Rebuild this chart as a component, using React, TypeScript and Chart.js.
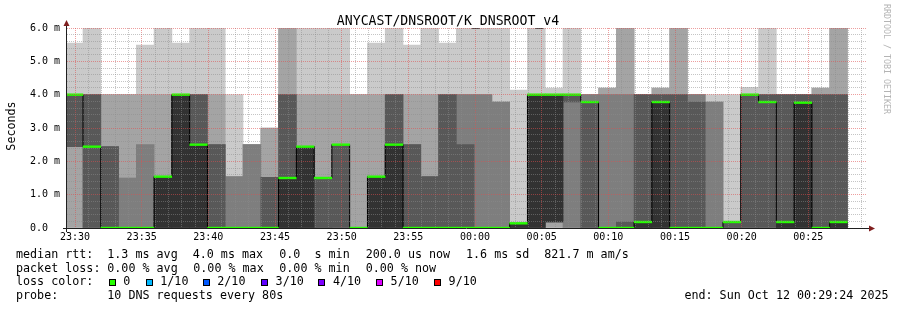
import React, { useEffect, useRef } from 'react';
import { Chart, registerables } from 'chart.js';

Chart.register(...registerables);

// ---- time axis (seconds relative to 23:30:00) ----
const VIEW_START = -36; // 23:29:24
const VIEW_END = 3564; // 00:29:24
const STEP = 80; // rrd step, seconds
const MINOR_TICK = 60; // seconds between minor grid lines
const MAJOR_TICK = 300; // seconds between labelled grid lines
const FIRST_STEP_START = -44; // 23:29:16

const xTickLabels = ['23:30', '23:35', '23:40', '23:45', '23:50', '23:55', '00:00', '00:05', '00:10', '00:15', '00:20', '00:25'];
const yTickLabels = ['0.0', '1.0 m', '2.0 m', '3.0 m', '4.0 m', '5.0 m', '6.0 m'];
const Y_MAX = 6;

// ---- per-step sorted ping rtts (ms), 10 pings each ----
const pingsSorted: number[][] = [
  [0, 0, 2.44, 2.44, 4.0, 4.0, 4.0, 4.0, 4.0, 5.55],
  [0, 0, 0, 0, 2.44, 2.44, 4.0, 4.0, 4.0, 6.0],
  [0, 0, 0, 0, 0, 0, 2.44, 2.44, 4.0, 4.0],
  [0, 0, 0, 0, 0, 0, 0, 1.5, 4.0, 4.0],
  [0, 0, 0, 0, 0, 0, 0, 2.5, 4.0, 5.49],
  [0, 0, 0, 0, 0, 1.54, 1.54, 1.54, 4.0, 6.0],
  [0, 0, 0, 0, 0, 4.0, 4.0, 4.0, 4.0, 5.55],
  [0, 0, 0, 0, 0, 2.5, 4.0, 4.0, 4.0, 6.0],
  [0, 0, 0, 0, 0, 0, 2.5, 2.5, 4.0, 6.0],
  [0, 0, 0, 0, 0, 0, 0, 1.54, 1.54, 4.0],
  [0, 0, 0, 0, 0, 0, 0, 2.5, 2.5, 2.5],
  [0, 0, 0, 0, 0, 0, 1.52, 1.52, 3.0, 3.0],
  [0, 0, 0, 0, 0, 1.5, 4.0, 4.0, 6.0, 6.0],
  [0, 0, 0, 0, 0, 2.44, 2.44, 2.44, 4.0, 6.0],
  [0, 0, 0, 0, 1.5, 1.5, 1.5, 1.5, 4.0, 6.0],
  [0, 0, 0, 0, 2.5, 2.5, 2.5, 2.5, 4.0, 6.0],
  [0, 0, 0, 0, 0, 0, 0, 0, 4.0, 4.0],
  [0, 0, 0, 0, 0, 1.54, 1.54, 1.54, 4.0, 5.55],
  [0, 0, 0, 0, 0, 2.5, 4.0, 4.0, 4.0, 6.0],
  [0, 0, 0, 0, 0, 0, 2.5, 2.5, 4.0, 5.49],
  [0, 0, 0, 0, 0, 0, 1.54, 1.54, 4.0, 6.0],
  [0, 0, 0, 0, 0, 0, 4.0, 4.0, 4.0, 5.55],
  [0, 0, 0, 0, 0, 0, 2.5, 4.0, 4.0, 6.0],
  [0, 0, 0, 0, 0, 0, 0, 4.0, 4.0, 6.0],
  [0, 0, 0, 0, 0, 0, 0, 3.78, 3.78, 6.0],
  [0, 0, 0, 0, 0, 0.14, 0.14, 0.14, 0.14, 4.14],
  [0, 0, 0, 0, 0, 4.0, 4.0, 4.0, 4.0, 6.0],
  [0, 0, 0.18, 0.18, 0.18, 4.0, 4.0, 4.0, 4.0, 4.2],
  [0, 0, 0, 3.78, 4.0, 4.0, 4.0, 4.0, 4.0, 6.0],
  [0, 0, 0, 0, 3.78, 3.78, 3.78, 4.0, 4.0, 4.0],
  [0, 0, 0, 0, 0, 0, 0, 4.0, 4.2, 4.2],
  [0, 0, 0, 0, 0, 0, 0.18, 4.0, 6.0, 6.0],
  [0, 0, 0, 0, 0, 0.18, 4.0, 4.0, 4.0, 4.0],
  [0, 0, 0, 0, 0, 3.78, 4.0, 4.0, 4.2, 4.2],
  [0, 0, 0, 0, 0, 0, 4.0, 4.0, 6.0, 6.0],
  [0, 0, 0, 0, 0, 0, 3.78, 4.0, 4.0, 4.0],
  [0, 0, 0, 0, 0, 0, 0, 3.78, 3.78, 4.0],
  [0, 0, 0, 0, 0.18, 0.18, 0.18, 0.18, 0.18, 4.0],
  [0, 0, 0, 0, 4.0, 4.0, 4.0, 4.0, 4.0, 4.22],
  [0, 0, 0, 0, 3.78, 3.78, 4.0, 4.0, 4.0, 6.0],
  [0, 0, 0, 0, 0, 0.18, 4.0, 4.0, 4.0, 4.0],
  [0, 0, 0, 0, 0, 3.76, 4.0, 4.0, 4.0, 4.0],
  [0, 0, 0, 0, 0, 0, 4.0, 4.0, 4.2, 4.2],
  [0, 0, 0, 0, 0, 0.18, 4.0, 4.0, 6.0, 6.0],
];

// median rtt per step (ms)
const medianRtt = [
  4.0, 2.44, 0, 0, 0, 1.54, 4.0, 2.5, 0, 0, 0, 0, 1.5, 2.44, 1.5, 2.5, 0, 1.54, 2.5, 0, 0, 0,
  0, 0, 0, 0.14, 4.0, 4.0, 4.0, 3.78, 0, 0, 0.18, 3.78, 0, 0, 0, 0.18, 4.0, 3.78, 0.18, 3.76, 0, 0.18,
];

// lost pings per step (out of 10)
const lostPings = [
  0, 0, 0, 0, 0, 0, 0, 0, 0, 0, 0, 0, 0, 0, 0, 0, 0, 0, 0, 0, 0, 0,
  0, 0, 0, 0, 0, 0, 0, 0, 0, 0, 0, 0, 0, 0, 0, 0, 0, 0, 0, 0, 0, 0,
];

const smokeColors = ['#cacaca', '#a4a4a4', '#7e7e7e', '#585858', '#323232'];

const lossLevelLabels = ['0', '1/10', '2/10', '3/10', '4/10', '5/10', '9/10'];
const lossLevelThresholds = [0, 1, 2, 3, 4, 5, 9];
const lossLevelColors = ['#26ff00', '#00b8ff', '#0059ff', '#5e00ff', '#7e00ff', '#dd00ff', '#ff0000'];

const chartTitle = 'ANYCAST/DNSROOT/K_DNSROOT_v4';
const yAxisTitle = 'Seconds';
const watermark = 'RRDTOOL / TOBI OETIKER';
const medianLegend = ['1.3 ms avg', '4.0 ms max', '0.0  s min', '200.0 us now', '1.6 ms sd', '821.7 m am/s'];
const lossLegend = ['0.00 % avg', '0.00 % max', '0.00 % min', '0.00 % now'];
const probeText = '10 DNS requests every 80s';
const endText = 'end: Sun Oct 12 00:29:24 2025';

const MONO = '"DejaVu Sans Mono", monospace';
const MINOR_GRID = 'rgba(140,140,140,0.5)';
const MAJOR_GRID = 'rgba(222,79,79,0.55)';

function lossColor(lost: number) {
  let idx = 0;
  lossLevelThresholds.forEach((t, i) => {
    if (lost >= t) idx = i;
  });
  return lossLevelColors[idx];
}

const stepCenter = (i: number) => FIRST_STEP_START + STEP * i + STEP / 2;

const decorPlugin = {
  id: 'smokepingDecor',
  afterDraw(chart: any) {
    const ctx = chart.ctx as CanvasRenderingContext2D;
    const { left, right, top, bottom } = chart.chartArea;
    ctx.save();
    // axes
    ctx.strokeStyle = '#1f1f1f';
    ctx.lineWidth = 1;
    ctx.beginPath();
    ctx.moveTo(left - 4, bottom + 0.5);
    ctx.lineTo(right + 3, bottom + 0.5);
    ctx.moveTo(left - 0.5, bottom + 4);
    ctx.lineTo(left - 0.5, top - 4);
    ctx.stroke();
    ctx.fillStyle = '#801f1f';
    ctx.beginPath();
    ctx.moveTo(right + 2, bottom + 0.5 - 3);
    ctx.lineTo(right + 8, bottom + 0.5);
    ctx.lineTo(right + 2, bottom + 0.5 + 3);
    ctx.closePath();
    ctx.fill();
    ctx.beginPath();
    ctx.moveTo(left - 0.5 - 3, top - 2);
    ctx.lineTo(left - 0.5, top - 8);
    ctx.lineTo(left - 0.5 + 3, top - 2);
    ctx.closePath();
    ctx.fill();

    // title
    ctx.fillStyle = '#000';
    ctx.font = `13.2px ${MONO}`;
    ctx.textAlign = 'center';
    ctx.textBaseline = 'alphabetic';
    ctx.fillText(chartTitle, 448, 24.5);

    // y axis title
    ctx.save();
    ctx.translate(11.5, 126);
    ctx.rotate(-Math.PI / 2);
    ctx.font = `11.7px ${MONO}`;
    ctx.textBaseline = 'middle';
    ctx.fillText(yAxisTitle, 0, 0);
    ctx.restore();

    // watermark
    ctx.save();
    ctx.translate(886, 59);
    ctx.rotate(Math.PI / 2);
    ctx.font = `8.3px ${MONO}`;
    ctx.fillStyle = '#b4b4b4';
    ctx.textBaseline = 'middle';
    ctx.fillText(watermark, 0, 0);
    ctx.restore();

    // legend
    ctx.font = `11.7px ${MONO}`;
    ctx.textAlign = 'left';
    ctx.textBaseline = 'middle';
    ctx.fillStyle = '#000';
    const rows = [255, 268.5, 282, 295.7];
    ctx.fillText('median rtt:', 16, rows[0]);
    const medX = [107.3, 192.7, 279.3, 365.7, 466, 544.3];
    medianLegend.forEach((s, i) => ctx.fillText(s, medX[i], rows[0]));
    ctx.fillText('packet loss:', 16, rows[1]);
    const lossX = [107.3, 193.3, 279.3, 365.7];
    lossLegend.forEach((s, i) => ctx.fillText(s, lossX[i], rows[1]));
    ctx.fillText('loss color:', 16, rows[2]);
    const boxX = [108.7, 145.7, 202.7, 261, 318.3, 376, 434];
    lossLevelLabels.forEach((s, i) => {
      const bx = Math.round(boxX[i]);
      ctx.fillStyle = lossLevelColors[i];
      ctx.fillRect(bx, 279, 7, 7);
      ctx.strokeStyle = '#000';
      ctx.strokeRect(bx + 0.5, 279.5, 6, 6);
      ctx.fillStyle = '#000';
      ctx.fillText(s, boxX[i] + 14.6, rows[2]);
    });
    ctx.fillText('probe:', 16, rows[3]);
    ctx.fillText(probeText, 107.3, rows[3]);
    ctx.textAlign = 'right';
    ctx.fillText(endText, 888.5, rows[3]);
    ctx.restore();
  },
};

export default function App() {
  const ref = useRef<HTMLCanvasElement>(null);

  useEffect(() => {
    // Non-grouped bars are sized from the smallest spacing on the x scale, which is the
    // minor tick spacing (60 s); widen them so each bar covers one full 80 s step.
    const barCommon = {
      type: 'bar' as const,
      borderWidth: 0,
      grouped: false,
      barPercentage: STEP / MINOR_TICK,
      categoryPercentage: 1,
      inflateAmount: 0.33,
    };

    const smokeDatasets = smokeColors.map((color, k) => ({
      ...barCommon,
      data: pingsSorted.map((p, i) => ({ x: stepCenter(i), y: [p[k], p[9 - k]] })),
      backgroundColor: pingsSorted.map((p) => (p[9 - k] > p[k] ? color : 'rgba(0,0,0,0)')),
      order: 10 - k,
    }));

    const band = Y_MAX / 200; // smokeping draws the loss-coloured median as a band of one pixel each side
    const medianBand = {
      ...barCommon,
      data: medianRtt.map((m, i) => ({ x: stepCenter(i), y: [m - band, m + band] })),
      backgroundColor: lostPings.map((l) => lossColor(l)),
      inflateAmount: 0.2,
      order: 0,
    };

    const stepPoints = medianRtt.map((m, i) => ({ x: FIRST_STEP_START + STEP * i, y: m }));
    stepPoints.push({ x: FIRST_STEP_START + STEP * medianRtt.length, y: medianRtt[medianRtt.length - 1] });
    const medianLine = {
      type: 'line' as const,
      data: stepPoints,
      borderColor: '#000000',
      borderWidth: 1,
      pointRadius: 0,
      fill: false,
      stepped: true,
      tension: 0,
      order: 1,
    };

    const chart = new Chart(ref.current as HTMLCanvasElement, {
      type: 'bar',
      data: { datasets: [...smokeDatasets, medianBand, medianLine] as any },
      options: {
        animation: false,
        responsive: false,
        devicePixelRatio: 1,
        events: [],
        layout: { padding: { left: 30, right: 30, top: 28, bottom: 0 } },
        plugins: { legend: { display: false }, tooltip: { enabled: false }, title: { display: false } },
        scales: {
          x: {
            type: 'linear',
            min: VIEW_START,
            max: VIEW_END,
            offset: false,
            afterFit: (s: any) => {
              s.height = 82;
            },
            afterBuildTicks: (s: any) => {
              const t: { value: number }[] = [];
              for (let v = 0; v <= VIEW_END; v += MINOR_TICK) t.push({ value: v });
              s.ticks = t;
            },
            grid: {
              offset: false,
              drawTicks: false,
              z: 1,
              lineWidth: 1,
              color: (c: any) => (c.tick && c.tick.value % MAJOR_TICK === 0 ? MAJOR_GRID : MINOR_GRID),
            },
            border: { display: false, dash: [1, 1] },
            ticks: {
              autoSkip: false,
              maxRotation: 0,
              padding: 3,
              color: '#000',
              font: { family: MONO, size: 10 },
              callback: (v: any) => (Number(v) % MAJOR_TICK === 0 ? xTickLabels[Number(v) / MAJOR_TICK] ?? '' : ''),
            },
          },
          y: {
            type: 'linear',
            min: 0,
            max: Y_MAX,
            afterFit: (s: any) => {
              s.width = 37;
            },
            afterBuildTicks: (s: any) => {
              const t: { value: number }[] = [];
              for (let i = 0; i <= Y_MAX * 5; i++) t.push({ value: i / 5 });
              s.ticks = t;
            },
            grid: {
              drawTicks: false,
              z: 1,
              lineWidth: 1,
              color: (c: any) => {
                const v = c.tick ? c.tick.value : 0.1;
                return Math.abs(v - Math.round(v)) < 1e-6 ? MAJOR_GRID : MINOR_GRID;
              },
            },
            border: { display: false, dash: [1, 1] },
            ticks: {
              autoSkip: false,
              crossAlign: 'far',
              color: '#000',
              font: { family: MONO, size: 10 },
              callback: (v: any) => {
                const n = Number(v);
                return Math.abs(n - Math.round(n)) < 1e-6 ? yTickLabels[Math.round(n)] : '';
              },
            },
          },
        },
      } as any,
      plugins: [decorPlugin],
    });
    return () => chart.destroy();
  }, []);

  return (
    <div style={{ position: 'fixed', left: 0, top: 0, width: 897, height: 310, background: '#fff' }}>
      <canvas ref={ref} width={897} height={310} style={{ display: 'block', width: 897, height: 310 }} />
    </div>
  );
}
